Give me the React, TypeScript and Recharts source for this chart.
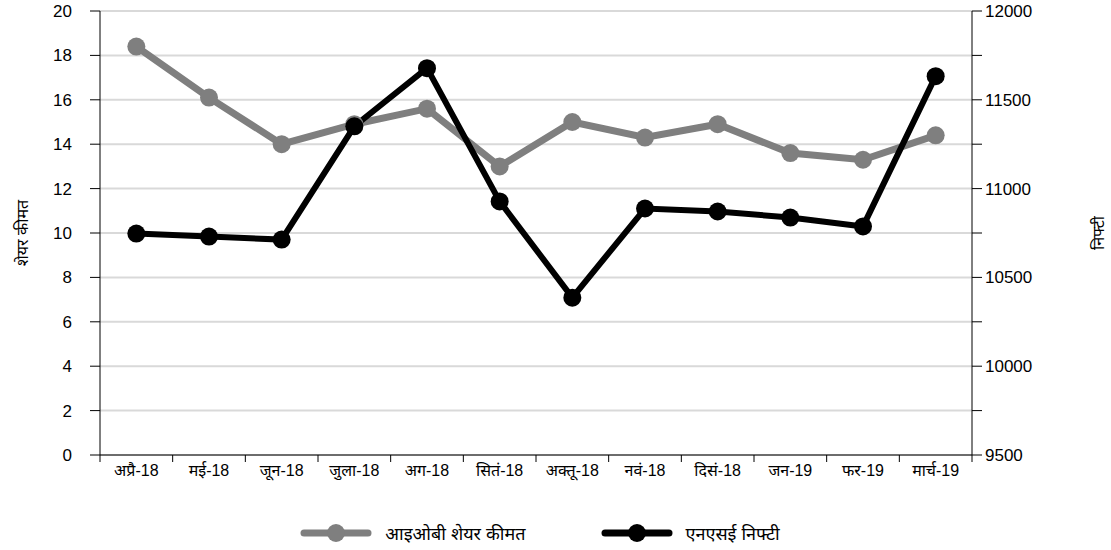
import { LineChart, Line, XAxis, YAxis, CartesianGrid, Legend } from 'recharts'

const months = ['अप्रै-18', 'मई-18', 'जून-18', 'जुला-18', 'अग-18', 'सितं-18', 'अक्तू-18', 'नवं-18', 'दिसं-18', 'जन-19', 'फर-19', 'मार्च-19']
const iobPrice = [18.4, 16.1, 14.0, 14.9, 15.6, 13.0, 15.0, 14.3, 14.9, 13.6, 13.3, 14.4]
const nifty = [10747, 10730, 10713, 11351, 11678, 10928, 10386, 10888, 10871, 10837, 10787, 11633]
const leftTicks = [0, 2, 4, 6, 8, 10, 12, 14, 16, 18, 20]
const rightTicks = [9500, 9750, 10000, 10250, 10500, 10750, 11000, 11250, 11500, 11750, 12000]

const W = 1111, H = 550
const LEFT_W = 100, RIGHT_W = 139
const band = (W - LEFT_W - RIGHT_W) / months.length
const FONT = '"Liberation Sans", Arial, "Noto Sans", sans-serif'

const data = months.map((m, i) => ({ month: m, iob: iobPrice[i], nifty: nifty[i] }))

function MonthTick({ x, y, payload, index }: any) {
  return (
    <g>
      <line x1={x - band / 2} x2={x - band / 2} y1={y} y2={y + 7} stroke="#000" />
      {index === months.length - 1 && <line x1={x + band / 2} x2={x + band / 2} y1={y} y2={y + 7} stroke="#000" />}
      <text x={x} y={y + 21} textAnchor="middle" fontSize={16} fill="#000" fontFamily={FONT}>{payload.value}</text>
    </g>
  )
}

function LegendIcon({ color }: { color: string }) {
  return (
    <svg width={72} height={20}>
      <line x1={4} x2={68} y1={10} y2={10} stroke={color} strokeWidth={7} strokeLinecap="round" />
      <circle cx={36} cy={10} r={9} fill={color} />
    </svg>
  )
}

function ChartLegend() {
  const items = [{ c: '#7f7f7f', l: 'आइओबी शेयर कीमत' }, { c: '#000', l: 'एनएसई निफ्टी' }]
  return (
    <div style={{ display: 'flex', justifyContent: 'center', gap: 75, paddingRight: 31, fontFamily: FONT, fontSize: 18 }}>
      {items.map(({ c, l }) => (
        <div key={l} style={{ display: 'flex', alignItems: 'center', gap: 13 }}>
          <LegendIcon color={c} />
          <span style={{ color: '#000' }}>{l}</span>
        </div>
      ))}
    </div>
  )
}

export default function App() {
  return (
    <div style={{ position: 'absolute', left: 0, top: 0, width: W, height: H, background: '#fff' }}>
      <LineChart width={W} height={H} data={data} margin={{ top: 11, right: 0, left: 0, bottom: 65 }}>
        <CartesianGrid yAxisId="left" vertical={false} stroke="#d9d9d9" strokeWidth={2} />
        <XAxis dataKey="month" height={30} padding={{ left: band / 2, right: band / 2 }} tickLine={false} tickSize={0} tickMargin={0}
          axisLine={{ stroke: '#000' }} tick={<MonthTick />} interval={0} />
        <YAxis yAxisId="left" width={LEFT_W} domain={[0, 20]} ticks={leftTicks} tickSize={10} tickMargin={18}
          axisLine={{ stroke: '#000' }} tickLine={{ stroke: '#000' }}
          tick={{ fill: '#000', fontSize: 17, fontFamily: FONT }}
          label={({ viewBox }: any) => (
            <text x={22} y={viewBox.y + viewBox.height / 2} transform={`rotate(-90 22 ${viewBox.y + viewBox.height / 2})`}
              textAnchor="middle" dominantBaseline="central" fontSize={16} fontFamily={FONT} fill="#000">शेयर कीमत</text>
          )} />
        <YAxis yAxisId="right" orientation="right" width={RIGHT_W} domain={[9500, 12000]} ticks={rightTicks} tickSize={10} tickMargin={3}
          axisLine={{ stroke: '#000' }} tickLine={{ stroke: '#000' }}
          tickFormatter={(v: number) => (v % 500 === 0 ? String(v) : '')}
          tick={{ fill: '#000', fontSize: 17, fontFamily: FONT, textAnchor: 'start' }}
          label={({ viewBox }: any) => (
            <text x={1098} y={viewBox.y + viewBox.height / 2} transform={`rotate(-90 1098 ${viewBox.y + viewBox.height / 2})`}
              textAnchor="middle" dominantBaseline="central" fontSize={16} fontFamily={FONT} fill="#000">निफ्टी</text>
          )} />
        <Legend verticalAlign="middle" wrapperStyle={{ top: 521, left: 0, width: W }} content={() => <ChartLegend />} />
        <Line yAxisId="left" dataKey="iob" stroke="#7f7f7f" strokeWidth={7} isAnimationActive={false}
          dot={{ r: 9, fill: '#7f7f7f', stroke: 'none' }} activeDot={false} />
        <Line yAxisId="right" dataKey="nifty" stroke="#000" strokeWidth={6} isAnimationActive={false}
          dot={{ r: 9, fill: '#000', stroke: 'none' }} activeDot={false} />
      </LineChart>
    </div>
  )
}
